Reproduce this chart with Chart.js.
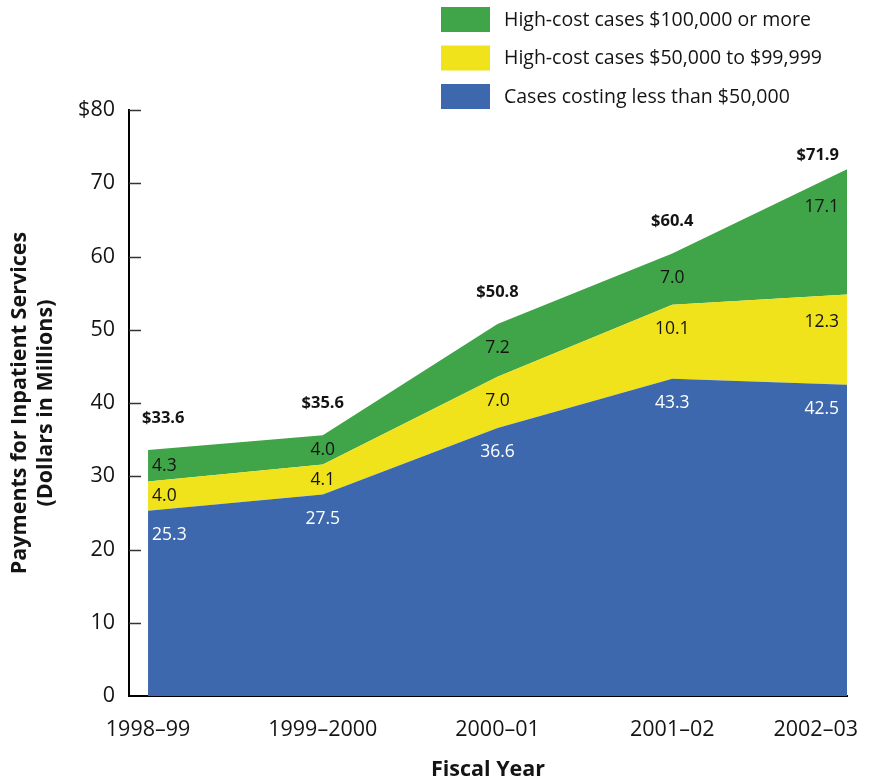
<!DOCTYPE html>
<html>
<head>
<meta charset="utf-8">
<script src="https://cdn.jsdelivr.net/npm/chart.js@4/dist/chart.umd.min.js"></script>
<style>
  html, body { margin: 0; padding: 0; background: #ffffff; }
  #wrap { width: 874px; height: 784px; }
</style>
</head>
<body>
<div id="wrap"><canvas id="chart" width="874" height="784"></canvas></div>
<script>
// Inpatient service payments by fiscal year, in millions of dollars
const fiscalYears = ['1998–99', '1999–2000', '2000–01', '2001–02', '2002–03'];
const casesUnder50k = [25.3, 27.5, 36.6, 43.3, 42.5];
const cases50kTo99k = [4.0, 4.1, 7.0, 10.1, 12.3];
const cases100kPlus = [4.3, 4.0, 7.2, 7.0, 17.1];
const yearTotals = [33.6, 35.6, 50.8, 60.4, 71.9];
const yTickValues = [0, 10, 20, 30, 40, 50, 60, 70, 80];

const FONT = '"Open Sans", "Noto Sans", sans-serif';
const INK = '#141414';

const toPoints = arr => arr.map((v, i) => ({ x: i, y: v }));

const datasets = [
  { label: 'Cases costing less than $50,000', data: toPoints(casesUnder50k),
    backgroundColor: '#3d68ad', fill: 'origin', textColor: '#ffffff' },
  { label: 'High-cost cases $50,000 to $99,999', data: toPoints(cases50kTo99k),
    backgroundColor: '#f0e21b', fill: '-1', textColor: INK },
  { label: 'High-cost cases $100,000 or more', data: toPoints(cases100kPlus),
    backgroundColor: '#40a548', fill: '-1', textColor: INK }
].map(d => Object.assign(d, { borderWidth: 0, pointRadius: 0, tension: 0 }));

const fmt = v => v.toFixed(1);

// Short inward tick marks on the value axis
const innerTicks = {
  id: 'innerTicks',
  afterDraw(chart) {
    const { ctx, chartArea, scales: { y } } = chart;
    ctx.save();
    ctx.strokeStyle = '#333333';
    ctx.lineWidth = 1.5;
    yTickValues.forEach(v => {
      if (v === 0) return;
      const py = Math.round(y.getPixelForValue(v)) + 0.5;
      ctx.beginPath();
      ctx.moveTo(chartArea.left, py);
      ctx.lineTo(chartArea.left + 12, py);
      ctx.stroke();
    });
    ctx.restore();
  }
};

// Category labels under the horizontal axis, kept inside the canvas
const yearLabels = {
  id: 'yearLabels',
  afterDraw(chart) {
    const { ctx, scales: { x } } = chart;
    ctx.save();
    ctx.font = '21.5px ' + FONT;
    ctx.fillStyle = INK;
    ctx.textBaseline = 'middle';
    ctx.textAlign = 'left';
    fiscalYears.forEach((label, i) => {
      const w = ctx.measureText(label).width;
      let left = x.getPixelForValue(i) - w / 2;
      left = Math.min(left, chart.width - 16 - w);
      ctx.fillText(label, left, x.top + 34);
    });
    ctx.restore();
  }
};

// Segment values inside each band, and the yearly total above the stack
const valueLabels = {
  id: 'valueLabels',
  afterDatasetsDraw(chart) {
    const { ctx, chartArea, scales: { x, y } } = chart;
    const last = fiscalYears.length - 1;
    const place = (i, px, firstShift) => {
      if (i === 0) return { x: px + firstShift, align: 'left' };
      if (i === last) return { x: px - 8, align: 'right' };
      return { x: px, align: 'center' };
    };
    ctx.save();
    ctx.textBaseline = 'middle';
    chart.data.datasets.forEach((ds, d) => {
      const meta = chart.getDatasetMeta(d);
      const below = d > 0 ? chart.getDatasetMeta(d - 1) : null;
      ctx.font = '17.5px ' + FONT;
      ctx.fillStyle = ds.textColor;
      meta.data.forEach((pt, i) => {
        const top = pt.y;
        const bottom = below ? below.data[i].y : y.getPixelForValue(0);
        const h = bottom - top;
        const drop = below ? Math.min(h / 2, Math.max(24, h * 0.3)) : 24;
        const p = place(i, x.getPixelForValue(i), 4);
        ctx.textAlign = p.align;
        ctx.fillText(fmt(ds.data[i].y), p.x, top + drop);
      });
    });
    const topMeta = chart.getDatasetMeta(chart.data.datasets.length - 1);
    ctx.font = 'bold 16.5px ' + FONT;
    ctx.fillStyle = INK;
    yearTotals.forEach((t, i) => {
      const ty = Math.max(topMeta.data[i].y - 32, chartArea.top + 45);
      const p = place(i, x.getPixelForValue(i), -6);
      ctx.textAlign = p.align;
      ctx.fillText('$' + fmt(t), p.x, ty);
    });
    ctx.restore();
  }
};

// Legend stacked in one column, top band first
const stackedLegend = {
  id: 'stackedLegend',
  afterDraw(chart) {
    const { ctx } = chart;
    const items = chart.data.datasets.slice().reverse();
    ctx.save();
    ctx.font = '19.5px ' + FONT;
    ctx.textBaseline = 'middle';
    ctx.textAlign = 'left';
    items.forEach((ds, k) => {
      const top = 7 + k * 38.5;
      ctx.fillStyle = ds.backgroundColor;
      ctx.fillRect(441, top, 49, 25);
      ctx.fillStyle = INK;
      ctx.fillText(ds.label, 504, top + 13);
    });
    ctx.restore();
  }
};

new Chart(document.getElementById('chart'), {
  type: 'line',
  data: { datasets },
  plugins: [innerTicks, yearLabels, valueLabels, stackedLegend],
  options: {
    responsive: false,
    animation: false,
    devicePixelRatio: 1,
    layout: { padding: { top: 110, right: 27, bottom: 0, left: 0 } },
    plugins: {
      legend: { display: false },
      tooltip: { enabled: false },
      filler: { propagate: false }
    },
    scales: {
      x: {
        type: 'linear',
        min: -0.109,
        max: 4,
        afterFit: s => { s.height = 88; },
        ticks: { display: false },
        grid: { display: false, drawTicks: false },
        border: { display: true, color: '#000000', width: 2 },
        title: {
          display: true,
          text: 'Fiscal Year',
          color: INK,
          font: { family: FONT, size: 21.5, weight: 'bold', lineHeight: 1.2 },
          padding: { top: 0, bottom: 1 }
        }
      },
      y: {
        stacked: true,
        min: 0,
        max: 80,
        afterFit: s => { s.width = 129; },
        afterBuildTicks: s => { s.ticks = yTickValues.map(v => ({ value: v })); },
        ticks: {
          padding: 14,
          color: INK,
          font: { family: FONT, size: 21.5 },
          callback: v => (v === 80 ? '$80' : String(v))
        },
        grid: { drawOnChartArea: false, drawTicks: false },
        border: { display: true, color: '#000000', width: 2 },
        title: {
          display: true,
          text: ['Payments for Inpatient Services', '(Dollars in Millions)'],
          color: INK,
          font: { family: FONT, size: 21.5, weight: 'bold', lineHeight: 1.2 },
          padding: { top: 7, bottom: 0 }
        }
      }
    }
  }
});
</script>
</body>
</html>
